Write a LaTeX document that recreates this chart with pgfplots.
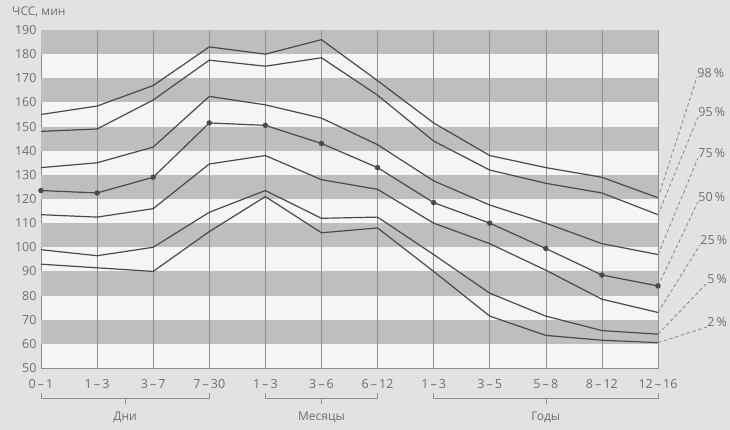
\documentclass[border=0pt]{standalone}
\usepackage{fontspec}
\setmainfont{Open Sans}
\usepackage{pgfplots}
\pgfplotsset{compat=1.18}
\definecolor{bg}{HTML}{E2E2E2}
\definecolor{band}{HTML}{BEBEBE}
\definecolor{light}{HTML}{F5F5F5}
\definecolor{ln}{HTML}{4A4A4A}
\definecolor{txt}{HTML}{6E6E6E}
\definecolor{grd}{HTML}{8E8E8E}
\tikzset{lead/.style={draw=grd, line width=0.9pt, dash pattern=on 3.5pt off 2.5pt}}

\pgfplotstableread{
x p98 p95 p75 p50 p25 p5 p2
0 155 148 133 123.5 113.5 99 93
1 158.5 149 135 122.5 112.5 96.5 91.5
2 167 161 141.5 129 116 100 90
3 183 177.5 162.5 151.5 134.5 114.5 106.5
4 180 175 159 150.5 138 123.5 121
5 186 178.5 153.5 143 128 112 106
6 169 163 142.5 133 124 112.5 108
7 151.5 144 127.5 118.5 110 97 90
8 138 132 117.5 110 101.5 81 71.5
9 133 126.5 110 99.5 90.5 71.5 63.5
10 129 122.5 101.5 88.5 78.5 65.5 61.5
11 120.5 113.5 97 84 73 64 60.5
}\hr

\begin{document}
\begin{tikzpicture}
\fill[bg] (-41pt,-62pt) rectangle (689pt,368pt);
\useasboundingbox (-41pt,-62pt) rectangle (689pt,368pt);
\begin{axis}[at={(0,0)}, anchor=south west, scale only axis,
  width=617pt, height=338pt,
  xmin=0, xmax=11, ymin=50, ymax=190, clip=false,
  axis background/.style={fill=light},
  axis line style={draw=grd, line width=0.6pt},
  xtick={0,...,11},
  xticklabels={0\,–\,1,1\,–\,3,3\,–\,7,7\,–\,30,1\,–\,3,3\,–\,6,6\,–\,12,1\,–\,3,3\,–\,5,5\,–\,8,8\,–\,12,12\,–\,16},
  ytick={50,60,...,190},
  major tick length=0pt,
  tick label style={font=\fontsize{12.5}{14}\selectfont, text=txt},
  yticklabel style={/pgf/number format/assume math mode=true, xshift=-1pt},
  xticklabel style={yshift=-7.5pt},
  every axis plot/.append style={ln, line width=1.2pt, line join=round},
]
\foreach \b in {60,80,...,180} {
  \edef\tmp{\noexpand\fill[band] (axis cs:0,\b) rectangle (axis cs:11,\b+10);}
  \tmp
}
\pgfplotsinvokeforeach{1,...,10}{
  \draw[grd, line width=0.5pt] (axis cs:#1,50) -- (axis cs:#1,190);
}
\addplot[no marks] table[x=x,y=p98] {\hr};
\addplot[no marks] table[x=x,y=p95] {\hr};
\addplot[no marks] table[x=x,y=p75] {\hr};
\addplot[mark=*, mark size=2.1pt, mark options={fill=ln, draw=ln}] table[x=x,y=p50] {\hr};
\addplot[no marks] table[x=x,y=p25] {\hr};
\addplot[no marks] table[x=x,y=p5] {\hr};
\addplot[no marks] table[x=x,y=p2] {\hr};

% leader lines and percentile labels
\begin{scope}[every node/.style={anchor=base west, inner sep=0pt, text=txt, font=\fontsize{12.5}{14}\selectfont}]
\draw[lead] (axis cs:11,120.5) -- (axis cs:11.695,170.5) node {98\,\%};
\draw[lead] (axis cs:11,113.5) -- (axis cs:11.713,154.0) node {95\,\%};
\draw[lead] (axis cs:11,97) -- (axis cs:11.713,137.0) node {75\,\%};
\draw[lead] (axis cs:11,84) -- (axis cs:11.713,118.8) node {50\,\%};
\draw[lead] (axis cs:11,73) -- (axis cs:11.749,101.0) node {25\,\%};
\draw[lead] (axis cs:11,64) -- (axis cs:11.874,85.2) node {5\,\%};
\draw[lead] (axis cs:11,60.5) -- (axis cs:11.874,67.0) node {2\,\%};
\end{scope}

% group brackets
\begin{scope}[grd, line width=0.6pt]
\draw ([yshift=-25pt]axis cs:0,50) -- ([yshift=-30pt]axis cs:0,50) -- ([yshift=-30pt]axis cs:3,50) -- ([yshift=-25pt]axis cs:3,50);
\draw ([yshift=-30pt]axis cs:1.5,50) -- ([yshift=-36pt]axis cs:1.5,50);
\draw ([yshift=-25pt]axis cs:4,50) -- ([yshift=-30pt]axis cs:4,50) -- ([yshift=-30pt]axis cs:6,50) -- ([yshift=-25pt]axis cs:6,50);
\draw ([yshift=-30pt]axis cs:5,50) -- ([yshift=-36pt]axis cs:5,50);
\draw ([yshift=-25pt]axis cs:7,50) -- ([yshift=-30pt]axis cs:7,50) -- ([yshift=-30pt]axis cs:11,50) -- ([yshift=-25pt]axis cs:11,50);
\draw ([yshift=-30pt]axis cs:9,50) -- ([yshift=-36pt]axis cs:9,50);
\end{scope}
\begin{scope}[every node/.style={inner sep=0pt, text=txt, font=\fontsize{12}{14}\selectfont}]
\node at ([yshift=-49pt]axis cs:1.5,50) {Дни};
\node at ([yshift=-49pt]axis cs:5,50) {Месяцы};
\node at ([yshift=-49pt]axis cs:9,50) {Годы};
\node[anchor=west] at ([xshift=-29pt,yshift=18pt]axis cs:0,190) {ЧСС, мин};
\end{scope}
\end{axis}
\end{tikzpicture}
\end{document}
